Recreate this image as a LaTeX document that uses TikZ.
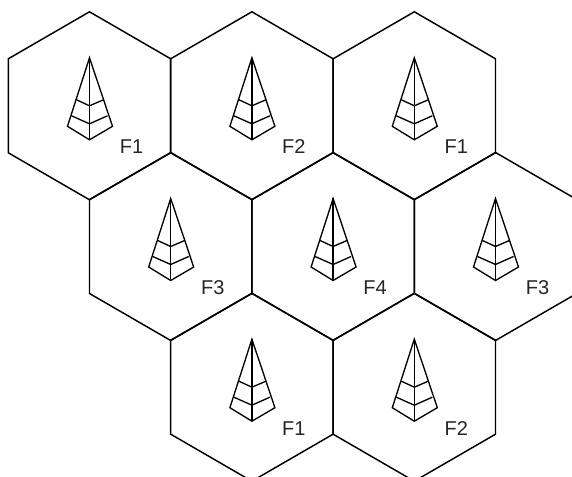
\documentclass[tikz,border=0pt]{standalone}
\usepackage{fontspec}
\setmainfont{Liberation Sans}
\usetikzlibrary{positioning, calc}
% one cell with its antenna, the centre is at (#1,#2)
\newcommand{\cellsite}[3]{
    \coordinate (c) at (#1,#2);
    \draw[cell] ($(c)+(0,-94)$) -- ++(81.2,47) -- ++(0,94) -- ++(-81.2,47) -- ++(-81.2,-47) -- ++(0,-94) -- cycle;
    \draw[ant] ($(c)+(0,-48)$) -- ++(-22,68.5) -- ++(22,13.5) -- ++(23,-13.5) -- cycle;
    \draw[ant] ($(c)+(0,-48)$) -- ++(0,82);
    \draw[ant] ($(c)+(-13,-6)$) -- ++(13,6) -- ++(14,-6);
    \draw[ant] ($(c)+(-18,10)$) -- ++(18,8) -- ++(18,-8);
    \node[freq] (f#3) at ($(c)+(42,41)$) {#3};
}
\begin{document}
\begin{tikzpicture}[
                x=0.75pt, y=-0.75pt,
                cell/.style={draw, line width=1.1pt, line join=miter},
                ant/.style={draw, line width=1pt, line join=miter},
                freq/.style={inner sep=0pt, font=\fontsize{15}{15}\selectfont, text=black!85}
            ]
            \useasboundingbox (0,0) rectangle (572,477);
            \clip (0,0) rectangle (572,477);
            % rows of cells
            \foreach \px/\py/\lbl in {89.5/105.8/F1, 251.9/105.8/F2, 414.3/105.8/F1,
                                      170.7/246.5/F3, 333.1/246.5/F4, 495.5/246.5/F3,
                                      251.9/387.2/F1, 414.3/387.2/F2}
                {\cellsite{\px}{\py}{\lbl}}
        \end{tikzpicture}
\end{document}
